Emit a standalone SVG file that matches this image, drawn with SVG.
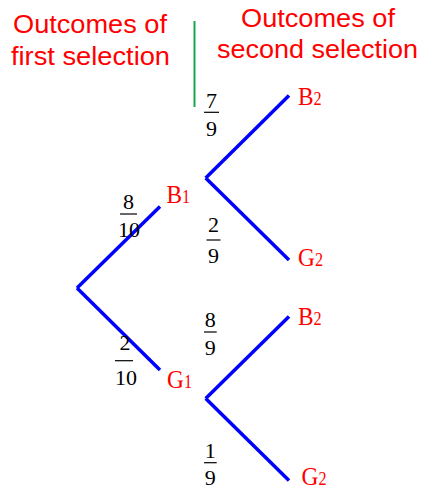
<svg xmlns="http://www.w3.org/2000/svg" width="424" height="489" viewBox="0 0 424 489">
<style>
.hdr{font-family:"Liberation Sans",Arial,sans-serif;font-size:25px;fill:#ff0000}
.lbl{font-family:"Liberation Serif","Times New Roman",serif;font-size:26px;fill:#ff0000}
.sub{font-size:18px}
.num{font-family:"Liberation Serif","Times New Roman",serif;font-size:22px;fill:#000;text-anchor:middle}
.edge{stroke:#0000ff;stroke-width:3.5;fill:none;stroke-linecap:butt}
.bar{stroke:#000;stroke-width:1.2}
</style>
<rect width="424" height="489" fill="#fff"/>
<g id="headers">
<text class="hdr" x="13" y="33" textLength="154" lengthAdjust="spacingAndGlyphs">Outcomes of</text>
<text class="hdr" x="11" y="65" textLength="159" lengthAdjust="spacingAndGlyphs">first selection</text>
<text class="hdr" x="241" y="27" textLength="154" lengthAdjust="spacingAndGlyphs">Outcomes of</text>
<text class="hdr" x="217" y="58" textLength="201" lengthAdjust="spacingAndGlyphs">second selection</text>
<line x1="194.5" y1="21" x2="194.5" y2="107" stroke="#1aa64a" stroke-width="2"/>
</g>
<g id="connectors">
<line class="edge" x1="77" y1="288" x2="160" y2="206.5"/>
<line class="edge" x1="77" y1="288" x2="160" y2="370"/>
<line class="edge" x1="205.7" y1="178" x2="289" y2="95.5"/>
<line class="edge" x1="205.7" y1="178" x2="289" y2="260"/>
<line class="edge" x1="205.7" y1="398.5" x2="289" y2="316.5"/>
<line class="edge" x1="205.7" y1="398.5" x2="289" y2="480.5"/>
</g>
<g id="edge-labels">
<g id="p-8-10"><text class="num" x="128.5" y="209">8</text><line class="bar" x1="120" y1="214" x2="137" y2="214"/><text class="num" x="129" y="236.5">10</text></g>
<g id="p-2-10"><text class="num" x="125" y="350">2</text><line class="bar" x1="115" y1="360.7" x2="133" y2="360.7"/><text class="num" x="126" y="385">10</text></g>
<g id="p-7-9"><text class="num" x="211.5" y="108">7</text><line class="bar" x1="204" y1="112.3" x2="219" y2="112.3"/><text class="num" x="211.5" y="136">9</text></g>
<g id="p-2-9"><text class="num" x="213.5" y="232">2</text><line class="bar" x1="206.5" y1="240" x2="220.5" y2="240"/><text class="num" x="213.5" y="262.5">9</text></g>
<g id="p-8-9"><text class="num" x="210.3" y="326.5">8</text><line class="bar" x1="204" y1="332" x2="216.7" y2="332"/><text class="num" x="210.3" y="355">9</text></g>
<g id="p-1-9"><text class="num" x="210.3" y="458">1</text><line class="bar" x1="204" y1="462.7" x2="216.7" y2="462.7"/><text class="num" x="210.3" y="485">9</text></g>
</g>
<g id="node-B1" transform="translate(166.5,202.5) scale(0.9,1)"><text class="lbl" x="0" y="0">B<tspan class="sub">1</tspan></text></g>
<g id="node-G1" transform="translate(167,388) scale(0.9,1)"><text class="lbl" x="0" y="0">G<tspan class="sub">1</tspan></text></g>
<g id="node-B2a" transform="translate(298,105) scale(0.9,1)"><text class="lbl" x="0" y="0">B<tspan class="sub">2</tspan></text></g>
<g id="node-G2a" transform="translate(298,266) scale(0.9,1)"><text class="lbl" x="0" y="0">G<tspan class="sub">2</tspan></text></g>
<g id="node-B2b" transform="translate(298,324.5) scale(0.9,1)"><text class="lbl" x="0" y="0">B<tspan class="sub">2</tspan></text></g>
<g id="node-G2b" transform="translate(301.5,484.5) scale(0.9,1)"><text class="lbl" x="0" y="0">G<tspan class="sub">2</tspan></text></g>
</svg>
